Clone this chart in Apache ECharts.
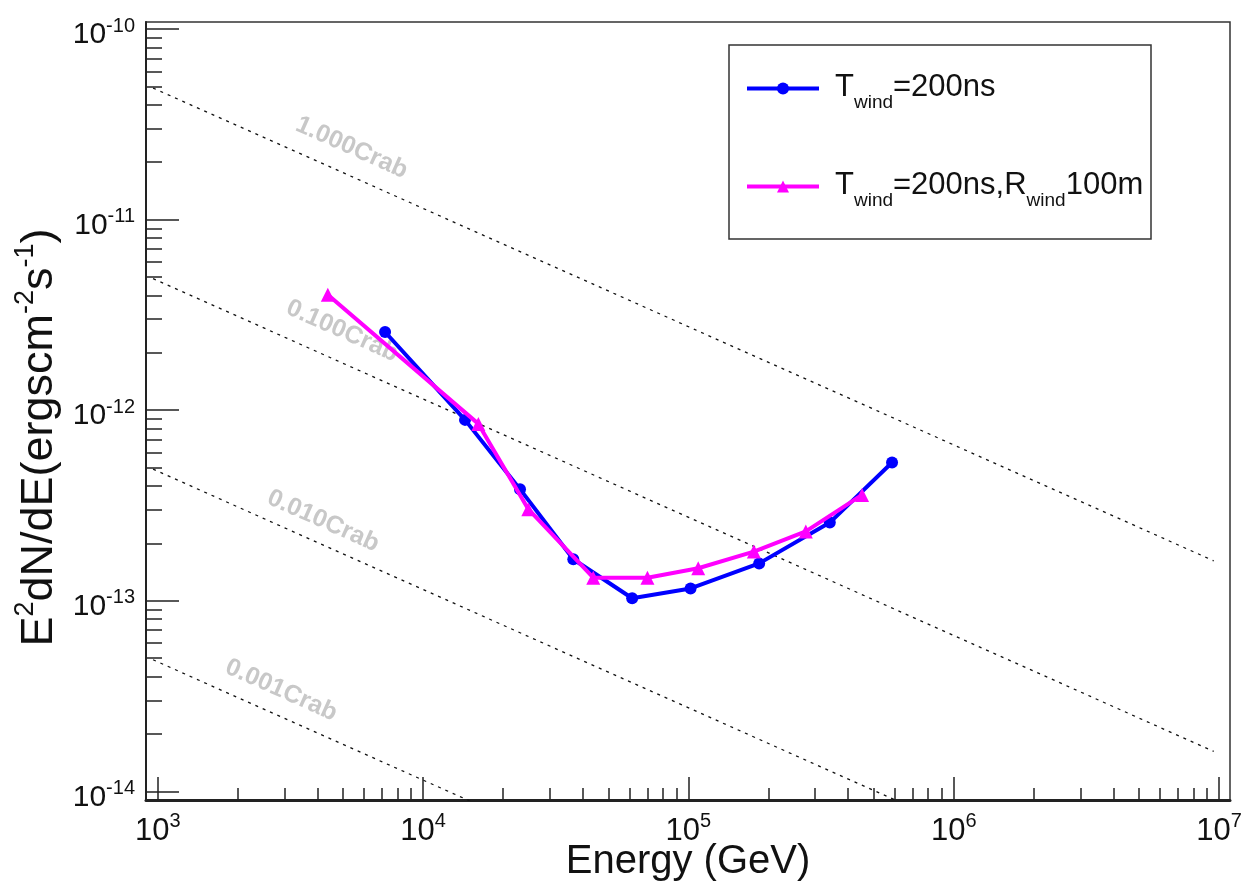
<!DOCTYPE html>
<html><head><meta charset="utf-8">
<script src="https://cdn.jsdelivr.net/npm/echarts@6/dist/echarts.min.js"></script>
<style>html,body{margin:0;padding:0;background:#fff}#c{width:1241px;height:886px}</style>
</head><body><div id="c"></div>
<script>
// ---------------- data ----------------
const seriesNames = ['Twind=200ns', 'Twind=200ns,Rwind100m'];
const energyBlue = [7190, 14390, 23190, 36830, 61380, 101900, 184800, 341200, 585600];
const fluxBlue   = [2.57e-12, 8.89e-13, 3.85e-13, 1.65e-13, 1.03e-13, 1.16e-13, 1.57e-13, 2.57e-13, 5.31e-13];
const energyMagenta = [4375, 16160, 24930, 43790, 70090, 108900, 176500, 277100, 451400];
const fluxMagenta   = [4.03e-12, 8.47e-13, 3.02e-13, 1.32e-13, 1.32e-13, 1.48e-13, 1.81e-13, 2.31e-13, 3.59e-13];
const crabNames = ['1.000Crab', '0.100Crab', '0.010Crab', '0.001Crab'];
const crabEnergy = [960, 9.55e6];
const crabFluxStart = [4.90e-11, 4.90e-12, 4.90e-13, 4.90e-14];
const crabFluxEnd   = [1.62e-13, 1.62e-14, 1.62e-15, 1.62e-16];
// where the grey labels sit (energy, flux)
const crabLabelEnergy = [5380, 4955, 4200, 2917];
const crabLabelFlux   = [2.38e-11, 2.60e-12, 2.62e-13, 3.39e-14];
const xExponents = [3, 4, 5, 6, 7];
const yExponents = [-14, -13, -12, -11, -10];
const minorMultipliers = [2, 3, 4, 5, 6, 7, 8, 9];
const xRange = [Math.pow(10, 2.9556), Math.pow(10, 7.0414)];
const yRange = [Math.pow(10, -14.0457), Math.pow(10, -9.9633)];

// ---------------- build ----------------
const FONT = 'Liberation Sans, Arial, Helvetica, sans-serif';
const xMajor = xExponents.map(e => Math.pow(10, e));
const yMajor = yExponents.map(e => Math.pow(10, e));
function minors(exps) {
  const out = [];
  for (let i = 0; i < exps.length - 1; i++)
    minorMultipliers.forEach(m => out.push(m * Math.pow(10, exps[i])));
  return out;
}
const xMinor = minors(xExponents);
const yMinor = minors(yExponents).concat(minorMultipliers.map(m => m * 1e-15)).concat(minorMultipliers.map(m => m * 1e-10));
const powLabel = v => '{b|10}{e|' + Math.round(Math.log10(v)) + '}';
const tickColor = '#222';

const xLabelRich = {
  b: {fontSize: 31, fontFamily: FONT, color: '#111', lineHeight: 36, verticalAlign: 'bottom'},
  e: {fontSize: 20, fontFamily: FONT, color: '#111', lineHeight: 20, verticalAlign: 'top'}
};
const yLabelRich = {
  b: {fontSize: 30, fontFamily: FONT, color: '#111', lineHeight: 34, verticalAlign: 'bottom'},
  e: {fontSize: 20, fontFamily: FONT, color: '#111', lineHeight: 20, verticalAlign: 'top'}
};

const crabSeries = crabNames.map((n, i) => ({
  name: n, type: 'line', xAxisIndex: 0, yAxisIndex: 0,
  data: [[crabEnergy[0], crabFluxStart[i]], [crabEnergy[1], crabFluxEnd[i]]],
  symbol: 'none', silent: true, clip: true, z: 1,
  lineStyle: {color: '#111', width: 1.3, type: [3, 5]}
}));

const option = {
  animation: false,
  backgroundColor: '#fff',
  grid: {left: 146, right: 11, top: 22, bottom: 86, outerBoundsMode: 'none', containLabel: false,
         show: true, borderColor: '#333', borderWidth: 1.5, backgroundColor: 'transparent'},
  xAxis: [
    {
      type: 'log', logBase: 10, min: xRange[0], max: xRange[1], position: 'bottom',
      axisLine: {show: true, onZero: false, lineStyle: {color: tickColor, width: 3}},
      axisTick: {show: true, inside: true, length: 23, customValues: xMajor, lineStyle: {color: tickColor, width: 1.5}},
      axisLabel: {show: true, customValues: xMajor, formatter: powLabel, margin: 11, rich: xLabelRich, hideOverlap: false},
      splitLine: {show: false}, minorTick: {show: false},
      name: 'Energy (GeV)', nameLocation: 'middle', nameGap: 42, nameMoveOverlap: false,
      nameTextStyle: {fontSize: 40, fontFamily: FONT, color: '#111'}
    },
    {
      type: 'log', logBase: 10, min: xRange[0], max: xRange[1], position: 'bottom',
      axisLine: {show: false},
      axisTick: {show: true, inside: true, length: 12, customValues: xMinor, lineStyle: {color: tickColor, width: 1.5}},
      axisLabel: {show: false}, splitLine: {show: false}
    }
  ],
  yAxis: [
    {
      type: 'log', logBase: 10, min: yRange[0], max: yRange[1], position: 'left',
      axisLine: {show: true, onZero: false, lineStyle: {color: tickColor, width: 2}},
      axisTick: {show: true, inside: true, length: 33, customValues: yMajor, lineStyle: {color: tickColor, width: 1.5}},
      axisLabel: {show: true, customValues: yMajor, formatter: powLabel, margin: 11, padding: [8, 0, 0, 0], rich: yLabelRich, hideOverlap: false},
      splitLine: {show: false},
      name: '{m|E}{s|2}{m|dN/dE(ergscm}{s|-2}{m|s}{s|-1}{m|)}',
      nameLocation: 'middle', nameRotate: 90, nameGap: 84, nameMoveOverlap: false,
      nameTextStyle: {
        padding: [0, 53, 0, 0],
        rich: {
          m: {fontSize: 45, fontFamily: FONT, color: '#111', lineHeight: 50, verticalAlign: 'bottom'},
          s: {fontSize: 27, fontFamily: FONT, color: '#111', lineHeight: 27, verticalAlign: 'top'}
        }
      }
    },
    {
      type: 'log', logBase: 10, min: yRange[0], max: yRange[1], position: 'left',
      axisLine: {show: false},
      axisTick: {show: true, inside: true, length: 16, customValues: yMinor.filter(v => v > yRange[0] && v < yRange[1]), lineStyle: {color: tickColor, width: 1.5}},
      axisLabel: {show: false}, splitLine: {show: false}
    }
  ],
  legend: [0, 1].map(i => ({
    data: [seriesNames[i]],
    left: 745, top: i === 0 ? 72 : 170,
    orient: 'vertical', itemWidth: 72, itemHeight: 15, padding: 0,
    lineStyle: {width: 4},
    formatter: name => i === 0 ? '{t|T}{s|wind}{t|=200ns}' : '{t|T}{s|wind}{t|=200ns,R}{s|wind}{t|100m}',
    textStyle: {
      padding: [7, 0, 0, 11],
      rich: {
        t: {fontSize: 31, fontFamily: FONT, color: '#111', lineHeight: 40, verticalAlign: 'top'},
        s: {fontSize: 19, fontFamily: FONT, color: '#111', lineHeight: 22, verticalAlign: 'bottom'}
      }
    },
    selectedMode: false
  })),
  series: crabSeries.concat([
    {
      name: seriesNames[0], type: 'line', z: 3,
      data: energyBlue.map((e, i) => [e, fluxBlue[i]]),
      symbol: 'circle', symbolSize: 12,
      lineStyle: {color: '#0000ff', width: 4}, itemStyle: {color: '#0000ff'}
    },
    {
      name: seriesNames[1], type: 'line', z: 4,
      data: energyMagenta.map((e, i) => [e, fluxMagenta[i]]),
      symbol: 'triangle', symbolSize: 14,
      lineStyle: {color: '#ff00ff', width: 4}, itemStyle: {color: '#ff00ff'}
    }
  ])
};

const chart = echarts.init(document.getElementById('c'), null, {renderer: 'canvas'});
chart.setOption(option);

const graphics = [{
  type: 'rect', shape: {x: 729, y: 45, width: 422, height: 194},
  style: {fill: 'transparent', stroke: '#333', lineWidth: 1.5}, z: 0, silent: true
}];
crabNames.forEach((n, i) => {
  const p = chart.convertToPixel({gridIndex: 0}, [crabLabelEnergy[i], crabLabelFlux[i]]);
  graphics.push({
    type: 'text', x: p[0], y: p[1], rotation: -24 * Math.PI / 180, silent: true, z: 2,
    style: {text: n, fill: '#c8c8c8', fontSize: 25, fontWeight: 'bold', fontFamily: FONT, align: 'center', verticalAlign: 'middle'}
  });
});
chart.setOption({graphic: graphics});
</script>
</body></html>
